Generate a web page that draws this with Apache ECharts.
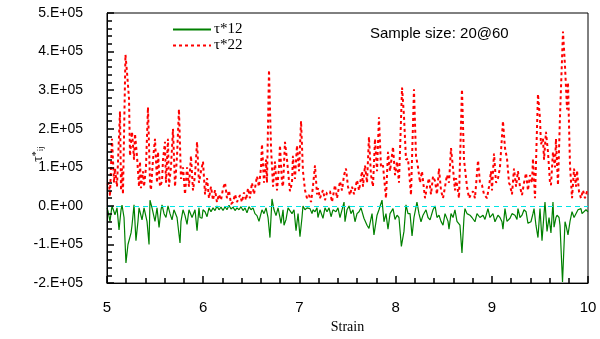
<!DOCTYPE html>
<html>
<head>
<meta charset="utf-8">
<script src="https://cdn.jsdelivr.net/npm/echarts@6/dist/echarts.min.js"></script>
<style>html,body{margin:0;padding:0;background:#fff}#c{width:600px;height:339px}</style>
</head>
<body>
<div id="c"></div>
<script>
// [strain, tau*22]
const tau22 = [
[5.000,55000],[5.021,59000],[5.031,25000],[5.052,174000],[5.073,60000],[5.083,97000],[5.104,50000],[5.135,245000],[5.146,40000],[5.156,97000],
[5.166,30000],[5.192,392000],[5.208,346000],[5.229,277000],[5.239,130000],[5.260,192000],[5.281,120000],[5.291,187000],[5.312,128000],[5.333,50000],
[5.343,115000],[5.353,46000],[5.374,90000],[5.385,50000],[5.405,100000],[5.426,256000],[5.447,60000],[5.457,41000],[5.478,120000],[5.499,174000],
[5.520,60000],[5.530,140000],[5.551,50000],[5.572,64000],[5.582,120000],[5.603,166000],[5.613,60000],[5.634,174000],[5.644,50000],[5.665,100000],
[5.686,200000],[5.707,50000],[5.728,130000],[5.748,251000],[5.769,70000],[5.790,100000],[5.811,30000],[5.832,100000],[5.852,50000],[5.873,130000],
[5.894,40000],[5.915,80000],[5.936,166000],[5.956,60000],[5.977,90000],[5.998,115000],[6.019,30000],[6.040,72000],[6.060,20000],[6.081,50000],
[6.102,15000],[6.123,41000],[6.143,10000],[6.164,30000],[6.185,15000],[6.206,45000],[6.227,60000],[6.247,20000],[6.268,40000],[6.289,5000],
[6.310,10000],[6.331,30000],[6.351,10000],[6.383,28000],[6.403,10000],[6.424,35000],[6.445,15000],[6.466,46000],[6.486,20000],[6.507,60000],
[6.528,30000],[6.559,77000],[6.580,50000],[6.601,100000],[6.611,160000],[6.632,60000],[6.653,120000],[6.663,60000],[6.684,352000],[6.705,150000],
[6.726,50000],[6.746,115000],[6.767,40000],[6.788,100000],[6.798,157000],[6.819,60000],[6.830,50000],[6.850,166000],[6.871,120000],[6.902,38000],
[6.923,60000],[6.933,130000],[6.954,70000],[6.975,157000],[6.996,90000],[7.017,220000],[7.037,90000],[7.058,41000],[7.079,20000],[7.100,28000],
[7.121,10000],[7.141,50000],[7.162,105000],[7.183,30000],[7.193,46000],[7.214,20000],[7.245,41000],[7.266,15000],[7.287,35000],[7.318,38000],
[7.339,10000],[7.370,54000],[7.391,20000],[7.422,64000],[7.443,40000],[7.464,80000],[7.484,97000],[7.505,50000],[7.526,28000],[7.547,50000],
[7.568,30000],[7.599,67000],[7.620,40000],[7.651,90000],[7.661,50000],[7.682,105000],[7.703,60000],[7.723,179000],[7.744,80000],[7.765,50000],
[7.786,174000],[7.807,90000],[7.827,230000],[7.848,100000],[7.869,105000],[7.900,20000],[7.921,140000],[7.942,90000],[7.973,153000],[7.994,80000],
[8.015,115000],[8.035,60000],[8.067,307000],[8.087,233000],[8.108,120000],[8.129,123000],[8.160,28000],[8.191,302000],[8.212,130000],[8.233,100000],
[8.254,60000],[8.274,90000],[8.306,20000],[8.326,50000],[8.347,72000],[8.368,30000],[8.389,77000],[8.410,64000],[8.430,30000],[8.451,97000],
[8.472,40000],[8.493,20000],[8.514,50000],[8.534,80000],[8.555,60000],[8.576,150000],[8.597,97000],[8.617,40000],[8.628,72000],[8.659,20000],
[8.690,302000],[8.711,120000],[8.721,123000],[8.742,50000],[8.763,20000],[8.784,30000],[8.805,38000],[8.825,20000],[8.857,118000],[8.877,60000],
[8.898,54000],[8.919,30000],[8.950,20000],[8.971,50000],[8.992,90000],[9.002,40000],[9.023,136000],[9.044,60000],[9.065,72000],[9.085,100000],
[9.116,220000],[9.137,150000],[9.158,123000],[9.179,60000],[9.189,54000],[9.210,30000],[9.231,97000],[9.252,50000],[9.272,90000],[9.293,50000],
[9.314,28000],[9.335,60000],[9.356,85000],[9.376,40000],[9.397,80000],[9.418,60000],[9.428,123000],[9.449,20000],[9.480,290000],[9.501,226000],
[9.511,160000],[9.532,174000],[9.543,120000],[9.563,192000],[9.584,140000],[9.605,60000],[9.615,54000],[9.636,140000],[9.657,100000],[9.667,174000],
[9.688,54000],[9.709,233000],[9.740,452000],[9.761,362000],[9.782,250000],[9.792,320000],[9.813,105000],[9.834,20000],[9.855,97000],[9.875,50000],
[9.886,92000],[9.906,38000],[9.927,20000],[9.948,41000],[9.969,20000],[9.990,38000],[10.000,30000]
];
// [strain, tau*12]
const tau12 = [
[5.000,-5000],[5.010,-13000],[5.031,-40000],[5.052,0],[5.073,-15000],[5.083,-23000],[5.104,-5000],[5.125,-62000],[5.146,-10000],[5.156,2000],
[5.177,-30000],[5.197,-148000],[5.218,-100000],[5.229,-103000],[5.250,-70000],[5.260,-50000],[5.281,3000],[5.301,-90000],[5.322,-40000],[5.333,-5000],
[5.364,-36000],[5.385,-5000],[5.416,-40000],[5.437,-100000],[5.447,15000],[5.468,-5000],[5.499,-40000],[5.520,-5000],[5.541,-56000],[5.561,-10000],
[5.572,3000],[5.593,-20000],[5.613,-30000],[5.634,0],[5.655,-20000],[5.676,-36000],[5.696,-10000],[5.707,-5000],[5.728,-30000],[5.759,-96000],
[5.769,-40000],[5.790,-10000],[5.811,-25000],[5.832,-48000],[5.852,-10000],[5.863,-5000],[5.884,-30000],[5.894,-35000],[5.915,-10000],[5.936,-64000],
[5.956,-5000],[5.967,-30000],[5.988,-32000],[5.998,-10000],[6.019,-15000],[6.040,-28000],[6.060,-5000],[6.081,-15000],[6.102,-5000],[6.123,-12000],
[6.143,0],[6.164,-10000],[6.185,-3000],[6.206,-12000],[6.227,-2000],[6.247,-10000],[6.268,2000],[6.289,-8000],[6.310,-3000],[6.331,-12000],
[6.351,-5000],[6.372,-10000],[6.393,-2000],[6.414,-12000],[6.435,-5000],[6.455,-18000],[6.476,-2000],[6.497,-10000],[6.518,-5000],[6.538,-20000],
[6.559,-25000],[6.580,-40000],[6.590,-30000],[6.611,-10000],[6.632,-20000],[6.653,-5000],[6.674,-30000],[6.694,-82000],[6.715,18000],[6.736,-10000],
[6.757,-25000],[6.778,-5000],[6.798,-30000],[6.809,-45000],[6.830,-10000],[6.840,-50000],[6.861,-35000],[6.882,-5000],[6.902,-5000],[6.923,-20000],
[6.944,-10000],[6.965,-64000],[6.986,-20000],[7.006,-80000],[7.027,-30000],[7.037,0],[7.058,-10000],[7.079,-5000],[7.110,-7000],[7.131,-20000],
[7.141,-10000],[7.162,-15000],[7.183,-5000],[7.193,-30000],[7.214,-10000],[7.245,-32000],[7.266,-5000],[7.287,-15000],[7.308,-5000],[7.329,-28000],
[7.349,-10000],[7.380,-15000],[7.401,-5000],[7.422,-30000],[7.443,-10000],[7.464,10000],[7.474,-41000],[7.495,-10000],[7.516,0],[7.536,-20000],
[7.557,-10000],[7.578,-41000],[7.599,-20000],[7.620,-15000],[7.640,-5000],[7.671,-32000],[7.703,-50000],[7.723,-58000],[7.734,-58000],[7.755,-20000],
[7.775,-75000],[7.807,-24000],[7.827,-10000],[7.838,-7000],[7.859,15000],[7.879,-41000],[7.900,-20000],[7.921,-60000],[7.942,-20000],[7.973,-7000],
[7.994,-35000],[8.015,-24000],[8.035,-30000],[8.060,-105000],[8.087,-66000],[8.108,3000],[8.129,-20000],[8.150,-20000],[8.171,-78000],[8.191,-30000],
[8.222,10000],[8.243,-20000],[8.264,-41000],[8.285,-24000],[8.316,-10000],[8.337,-30000],[8.358,-36000],[8.368,-32000],[8.389,-10000],[8.410,0],
[8.430,-30000],[8.451,-24000],[8.472,-40000],[8.493,-50000],[8.514,-20000],[8.545,-40000],[8.555,-60000],[8.576,-20000],[8.597,-30000],[8.617,-10000],
[8.638,-40000],[8.669,-50000],[8.690,-122000],[8.711,-30000],[8.721,-7000],[8.742,-20000],[8.773,-24000],[8.794,-30000],[8.825,-41000],[8.846,-20000],
[8.857,-15000],[8.877,-30000],[8.909,-24000],[8.929,-35000],[8.960,-7000],[8.981,-30000],[9.012,-20000],[9.033,-41000],[9.064,-24000],[9.085,-30000],
[9.106,-41000],[9.116,-60000],[9.137,-7000],[9.158,-40000],[9.189,-32000],[9.210,-20000],[9.241,-24000],[9.262,-35000],[9.272,-7000],[9.293,-30000],
[9.314,-24000],[9.335,-10000],[9.356,-15000],[9.376,-45000],[9.407,-41000],[9.428,-20000],[9.439,-7000],[9.459,-50000],[9.480,-82000],[9.501,-7000],
[9.522,-90000],[9.543,-20000],[9.553,10000],[9.574,-66000],[9.595,-30000],[9.615,-70000],[9.636,10000],[9.647,-55000],[9.667,-30000],[9.678,-24000],
[9.699,-30000],[9.709,-50000],[9.735,-197000],[9.761,-41000],[9.771,-50000],[9.792,-75000],[9.813,-40000],[9.834,-15000],[9.855,-30000],[9.875,-32000],
[9.896,-10000],[9.927,-7000],[9.938,-20000],[9.958,-20000],[9.979,-10000],[10.000,-15000]
];
const seriesNames = ['τ*12', 'τ*22'];
const yTicks = [-200000, -100000, 0, 100000, 200000, 300000, 400000, 500000];
const yTickLabels = ['-2.E+05', '-1.E+05', '0.E+00', '1.E+05', '2.E+05', '3.E+05', '4.E+05', '5.E+05'];
const xName = 'Strain';
const note = 'Sample size: 20@60';
const X_MIN = 5, X_MAX = 10, Y_MIN = -200000, Y_MAX = 500000;

const chart = echarts.init(document.getElementById('c'), null, {renderer: 'canvas'});
function axisCommon() {
  return {
    axisLine: {show: true, onZero: false, lineStyle: {color: '#000', width: 1}},
    axisTick: {show: true, inside: true, length: 7, lineStyle: {color: '#000', width: 1.5}},
    minorTick: {show: true, splitNumber: 5, length: 5, lineStyle: {color: '#000', width: 1.5}},
    splitLine: {show: false}
  };
}
chart.setOption({
  animation: false,
  grid: {left: 107, right: 12, top: 13, bottom: 53, show: true, borderColor: '#000', borderWidth: 1, backgroundColor: 'rgba(0,0,0,0)', z: 0},
  legend: {
    orient: 'vertical', left: 167, top: 17, itemWidth: 38, itemHeight: 10, itemGap: 1,
    data: seriesNames,
    itemStyle: {color: 'rgba(0,0,0,0)', borderWidth: 0, opacity: 0},
    textStyle: {fontFamily: 'Liberation Serif', fontSize: 15, lineHeight: 15, color: '#000', padding: [0, 0, 0, -2]}
  },
  xAxis: Object.assign({
    type: 'value', min: X_MIN, max: X_MAX, interval: 1, z: 20,
    axisLabel: {color: '#000', fontFamily: 'Liberation Sans', fontSize: 15, margin: 17},
    name: xName, nameLocation: 'middle', nameGap: 33,
    nameTextStyle: {fontFamily: 'Liberation Serif', fontSize: 14, color: '#000'}
  }, axisCommon()),
  yAxis: Object.assign({
    type: 'value', min: Y_MIN, max: Y_MAX, interval: 100000, z: 20,
    axisLabel: {color: '#000', fontFamily: 'Liberation Sans', fontSize: 14, margin: 24,
      formatter: v => { const i = yTicks.indexOf(v); return i >= 0 ? yTickLabels[i] : ''; }},
    name: '{t|τ}{s|*}{b|ij}', nameLocation: 'middle', nameGap: 62, nameRotate: 90,
    nameMoveOverlap: false,
    nameTextStyle: {
      padding: [0, 12, 0, 0],
      rich: {
        t: {fontFamily: 'Liberation Serif', fontSize: 14, color: '#000', lineHeight: 14, verticalAlign: 'middle'},
        s: {fontFamily: 'Liberation Serif', fontSize: 10, color: '#000', lineHeight: 14, verticalAlign: 'top'},
        b: {fontFamily: 'Liberation Serif', fontSize: 9, color: '#000', lineHeight: 14, verticalAlign: 'bottom'}
      }
    }
  }, axisCommon()),
  graphic: [{
    type: 'text', left: 370, top: 26,
    style: {text: note, font: '15px "Liberation Sans"', fill: '#000'}
  }],
  series: [
    {
      name: seriesNames[1], type: 'line', data: tau22, symbol: 'none', z: 2,
      lineStyle: {color: '#ff0000', width: 2, type: [3, 3]}, itemStyle: {color: '#ff0000'}
    },
    {
      name: seriesNames[0], type: 'line', data: tau12, symbol: 'none', z: 3,
      lineStyle: {color: '#008000', width: 1.2}, itemStyle: {color: '#008000'},
      markLine: {
        silent: true, symbol: 'none', label: {show: false}, z: 5,
        lineStyle: {color: '#00e5e5', type: [5, 4], width: 1},
        data: [{yAxis: 0}]
      }
    }
  ]
});
</script>
</body>
</html>
